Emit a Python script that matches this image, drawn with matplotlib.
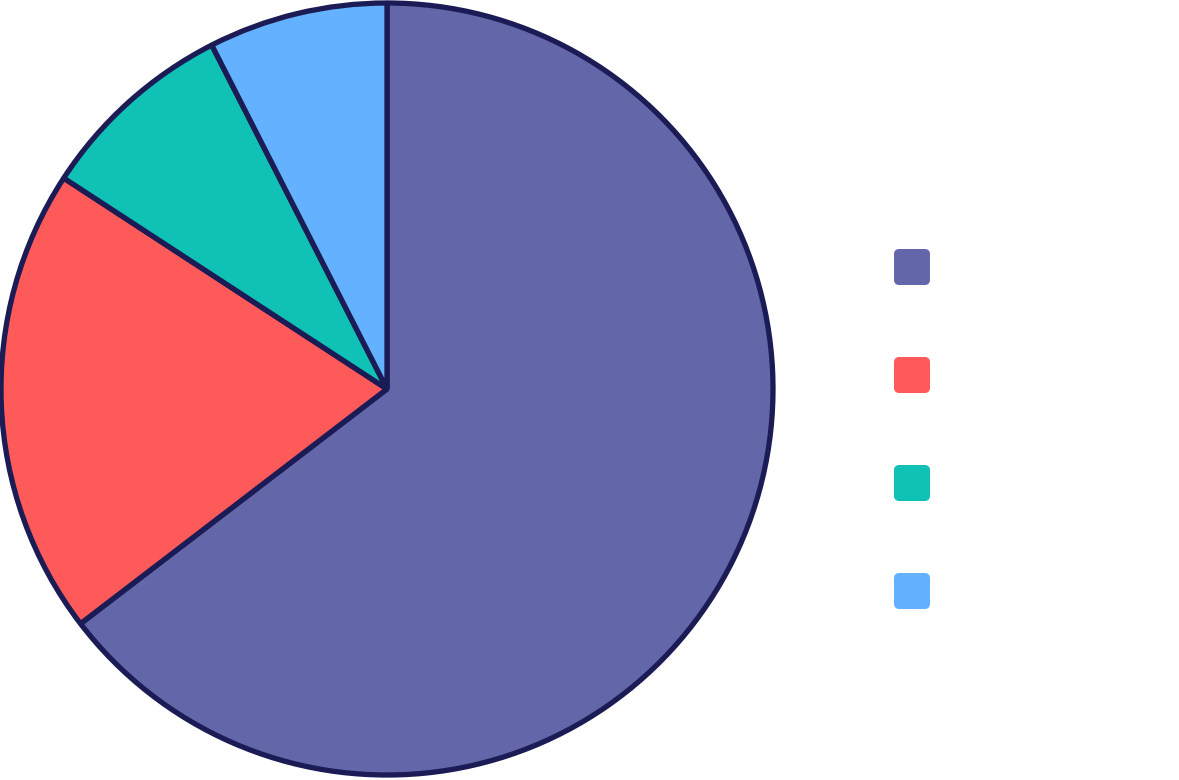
import matplotlib.pyplot as plt
from matplotlib.patches import FancyBboxPatch

labels = ["A", "B", "C", "D"]
values = [64.6, 19.6, 8.3, 7.5]
colors = ["#6367AA", "#FF5A5A", "#10C2B5", "#64B2FF"]
edge = "#1B1B55"

W, H = 1179, 780
fig = plt.figure(figsize=(W / 100, H / 100), dpi=100)

# pie centre (387, 389) px, radius 386 px
cx, cy, r = 387, 389, 386
ax = fig.add_axes([(cx - r) / W, (H - cy - r) / H, 2 * r / W, 2 * r / H])
wedges, _ = ax.pie(values, colors=colors, startangle=90, counterclock=False,
                   radius=1.0,
                   wedgeprops=dict(edgecolor=edge, linewidth=3.8, joinstyle="bevel"))
for w in wedges:
    w.set_clip_on(False)
ax.set_xlim(-1, 1)
ax.set_ylim(-1, 1)
ax.set_aspect("equal")
ax.axis("off")

# legend swatches, no visible text
for i, c in enumerate(colors):
    y = 267 + i * 108
    box = FancyBboxPatch((894 / W, (H - y - 18) / H), 36 / W, 36 / H,
                         boxstyle="round,pad=0,rounding_size=0.0045",
                         transform=fig.transFigure, facecolor=c, edgecolor="none",
                         mutation_aspect=W / H)
    fig.patches.append(box)

fig.savefig("out.png", dpi=100)
